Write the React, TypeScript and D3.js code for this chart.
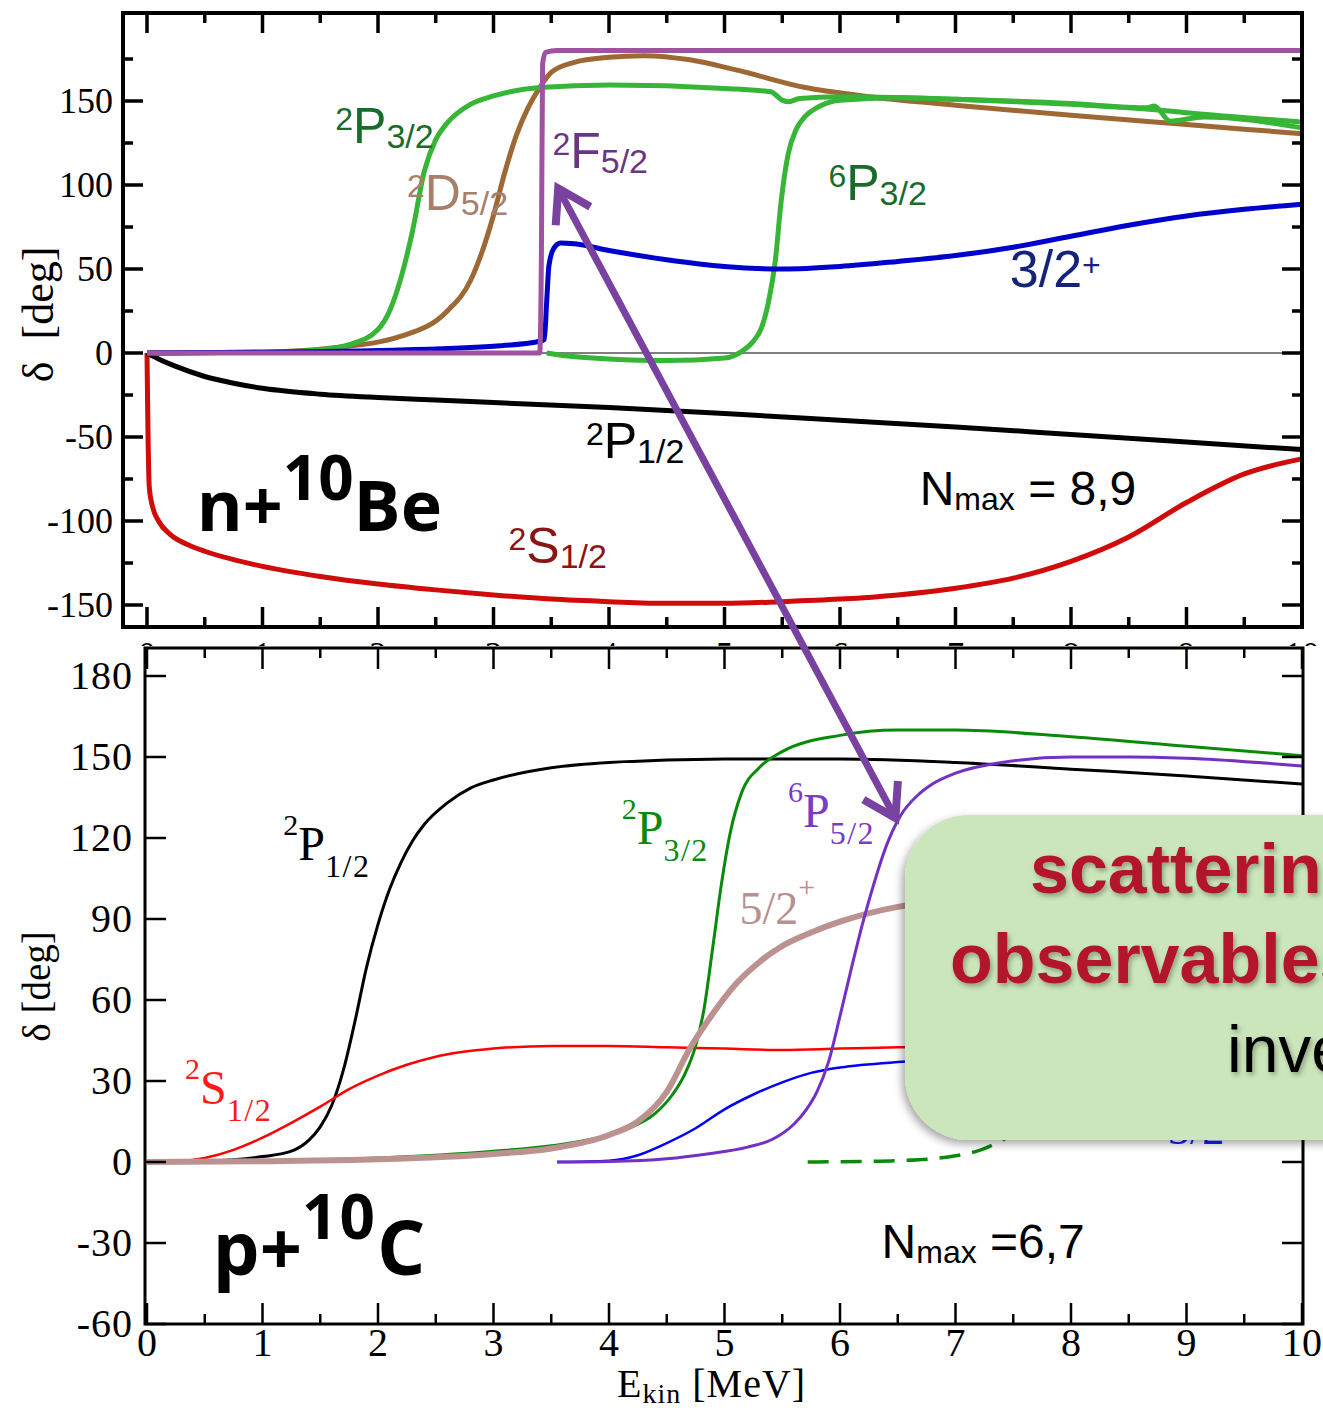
import React from "react";
import * as d3 from "d3";

type Pt = [number, number];

// ---------- n + 10Be phase shifts, Nmax = 8,9 (E_kin [MeV], delta [deg]) ----------
const beS12: Pt[] = [[0,0],[0.008,-45],[0.02,-80],[0.05,-92],[0.1,-100],[0.2,-108],[0.35,-114],[0.5,-118],[0.75,-123],[1,-127],[1.5,-133],[2,-137.5],[2.5,-141],[3,-144],[3.5,-146.5],[4,-148],[4.5,-149],[5,-149],[5.5,-148],[6,-146.5],[6.5,-144],[7,-140],[7.5,-134],[8,-124],[8.5,-109.5],[9,-89],[9.5,-72],[10,-63]];
const beP12: Pt[] = [[0,0],[0.1,-3.5],[0.25,-8],[0.5,-14],[0.75,-18],[1,-21],[1.5,-24.5],[2,-26.5],[2.5,-28],[3,-29.5],[4,-32.5],[5,-36],[6,-40],[7,-44],[8,-48.5],[9,-53],[10,-57.5]];
const beP32: Pt[] = [[0,0],[1,0.5],[1.5,2],[1.75,5],[2,14],[2.1,25],[2.2,45],[2.3,73],[2.4,108],[2.5,127],[2.6,137],[2.8,148],[3,153],[3.4,158],[4,159.5],[5,157.5],[5.4,155.5],[5.5,150.5],[5.55,149.5],[5.65,151.5],[6,152.5],[7,151],[8,148.5],[8.66,146],[8.72,147],[8.86,138],[9.15,140.5],[10,134]];
const be6P32: Pt[] = [[3.46,0],[3.6,-1.5],[4,-3.5],[4.5,-4.5],[5,-3],[5.15,1],[5.25,7],[5.32,15],[5.38,30],[5.44,55],[5.49,90],[5.55,118],[5.62,133],[5.7,141],[5.8,146],[6,150.5],[6.5,152],[7,151],[8,148],[8.7,145],[9,143],[10,137.5]];
const beD52: Pt[] = [[0,0],[1,0.5],[1.6,3],[2.2,10],[2.6,25],[2.8,43],[2.9,60],[3,82],[3.1,108],[3.2,130],[3.3,146],[3.4,158],[3.5,167],[3.7,173],[4,176],[4.3,177],[4.7,174.5],[5.1,168.5],[5.7,158],[6.2,153],[7,147.5],[8,141.5],[9,136],[10,130.5]];
const be32p: Pt[] = [[0,0],[1,0.5],[2,1.5],[3,4],[3.4,7],[3.44,8],[3.46,30],[3.48,52],[3.52,62],[3.58,65.5],[3.7,65],[4,61],[4.5,55.5],[5,51.5],[5.5,50],[6,51.5],[6.5,54.5],[7,58],[7.5,63],[8,69.5],[8.5,76],[9,81.5],[9.5,85.5],[10,88.5]];
const beF52: Pt[] = [[0,0],[3.4,0],[3.415,60],[3.425,172],[3.45,179],[3.55,180],[10,180]];

// ---------- p + 10C phase shifts, Nmax = 6,7 ----------
const cS12: Pt[] = [[0,0],[0.25,0.2],[0.5,1.5],[0.75,4.5],[1,9],[1.25,14.5],[1.5,20.5],[1.75,27],[2,32],[2.25,36],[2.5,39],[3,42],[3.5,43],[4,43],[4.5,42.5],[5,42],[5.5,41.5],[6,42],[6.5,42.5],[7,43],[8,43],[10,43]];
const cP12: Pt[] = [[0,0],[0.5,0.2],[0.75,0.8],[1,2],[1.25,4],[1.4,8],[1.5,13],[1.6,21],[1.7,34],[1.8,52],[1.9,72],[2,88],[2.1,101],[2.2,111],[2.3,119],[2.4,125],[2.6,133],[2.8,138.5],[3,141.5],[3.5,146],[4,148],[5,149.3],[6,149.3],[7,148],[8,145.5],[9,143],[10,140]];
const cP32: Pt[] = [[0,0],[1,0.5],[2,1.5],[3,4],[3.5,6],[4,10],[4.2,13],[4.4,18],[4.55,25],[4.65,32],[4.75,43],[4.82,56],[4.9,80],[4.97,102],[5.05,122],[5.15,137],[5.3,146],[5.5,152],[6,158],[6.5,160],[7,160],[8,157.5],[9,154],[10,150.5]];
const c52p: Pt[] = [[0,0],[1,0.3],[2,1],[3,3],[3.5,5],[4,10],[4.25,15],[4.5,26],[4.7,42],[4.9,55],[5.1,66],[5.3,74],[5.5,80],[5.75,85],[6,89],[6.5,94.5],[7,97],[8,100],[9,102],[10,103]];
const cP52: Pt[] = [[3.55,0],[4,0.2],[4.5,1.2],[4.85,3],[5.2,5.5],[5.42,8.5],[5.6,14],[5.71,19.5],[5.8,26],[5.9,37],[6,54],[6.1,72],[6.2,89],[6.3,104],[6.4,117],[6.52,128],[6.69,136.5],[6.8,140],[7,144],[7.4,148],[8,150],[8.5,150],[9,149.5],[10,146.7]];
const c32m: Pt[] = [[3.55,0],[4,0.5],[4.25,2.5],[4.5,7],[4.75,12.5],[5,19.5],[5.25,25],[5.5,29.5],[5.75,33],[6,35],[6.5,37],[7,38],[8,39],[10,39.5]];
const cDashed: Pt[] = [[5.72,0],[6.2,0.2],[6.5,0.5],[6.8,1.2],[7,2.3],[7.2,4.2],[7.4,8],[7.6,13],[8,22],[8.5,32],[9,38],[10,42]];

// ---------- ticks ----------
const energyTicks = d3.range(0, 11);
const energyMinor = d3.range(0.5, 10, 1);
const topDeltaTicks = [-150, -100, -50, 0, 50, 100, 150];
const topDeltaMinor = [-125, -75, -25, 25, 75, 125, 175];
const botDeltaTicks = [-60, -30, 0, 30, 60, 90, 120, 150, 180];

// ---------- layout ----------
const W = 1323;
const H = 1410;
const topBox = { left: 123, right: 1302, top: 13, bottom: 627 };
const botBox = { left: 145, right: 1303, top: 648, bottom: 1324 };

const xTop = d3.scaleLinear().domain([0, 10]).range([147, 1302]);
const yTop = d3.scaleLinear().domain([0, 150]).range([353, 101]);
const xBot = d3.scaleLinear().domain([0, 10]).range([147, 1302]);
const yBot = d3.scaleLinear().domain([0, 180]).range([1162, 676]);

const SERIF = "'Liberation Serif', 'Times New Roman', serif";
const SANS = "'Liberation Sans', Arial, Helvetica, sans-serif";
const BOLD = "'Open Sans', 'DejaVu Sans', sans-serif";

const lineTop = d3.line<Pt>().x((d) => xTop(d[0])).y((d) => yTop(d[1])).curve(d3.curveMonotoneX);
const lineBot = d3.line<Pt>().x((d) => xBot(d[0])).y((d) => yBot(d[1])).curve(d3.curveMonotoneX);

type Part = { t: string; size: number; dy?: number; ls?: number };

function Label({ x, y, parts, fill, family, weight }: { x: number; y: number; parts: Part[]; fill: string; family: string; weight?: number | string }) {
  return (
    <text x={x} y={y} fill={fill} fontFamily={family} fontWeight={weight ?? "normal"}>
      {parts.map((p, i) => (
        <tspan key={i} fontSize={p.size} dy={p.dy ?? 0} letterSpacing={p.ls ?? 0}>
          {p.t}
        </tspan>
      ))}
    </text>
  );
}

// sans spectroscopic term for the upper panel: sup, main letter, sub
const termSans = (sup: string, main: string, sub: string): Part[] => [
  { t: sup, size: 32, dy: -13 },
  { t: main, size: 50, dy: 13 },
  { t: sub, size: 34, dy: 5 },
];
// serif term for the lower panel
const termSerif = (sup: string, main: string, sub: string): Part[] => [
  { t: sup, size: 30, dy: -25 },
  { t: main, size: 48, dy: 25 },
  { t: sub, size: 32, dy: 17, ls: 1.5 },
];

type Box = { left: number; right: number; top: number; bottom: number };

function Frame({ box, xs, ys, xMaj, xMin, yMaj, yMin, maj, min, tickW, frameW }: {
  box: Box; xs: d3.ScaleLinear<number, number>; ys: d3.ScaleLinear<number, number>;
  xMaj: number[]; xMin: number[]; yMaj: number[]; yMin: number[]; maj: number; min: number; tickW: number; frameW: number;
}) {
  const segs: [number, number, number, number][] = [];
  xMaj.forEach((v) => { const X = xs(v); segs.push([X, box.bottom, X, box.bottom - maj]); segs.push([X, box.top, X, box.top + maj]); });
  xMin.forEach((v) => { const X = xs(v); segs.push([X, box.bottom, X, box.bottom - min]); segs.push([X, box.top, X, box.top + min]); });
  yMaj.forEach((v) => { const Y = ys(v); segs.push([box.left, Y, box.left + maj, Y]); segs.push([box.right, Y, box.right - maj, Y]); });
  yMin.forEach((v) => { const Y = ys(v); segs.push([box.left, Y, box.left + min, Y]); segs.push([box.right, Y, box.right - min, Y]); });
  return (
    <g stroke="#000" fill="none">
      {segs.map((s, i) => (
        <line key={i} x1={s[0]} y1={s[1]} x2={s[2]} y2={s[3]} strokeWidth={tickW} />
      ))}
      <rect x={box.left} y={box.top} width={box.right - box.left} height={box.bottom - box.top} strokeWidth={frameW} />
    </g>
  );
}

function chevron(tip: [number, number], from: [number, number], len: number, deg: number) {
  const dx = from[0] - tip[0];
  const dy = from[1] - tip[1];
  const L = Math.hypot(dx, dy);
  const ux = dx / L, uy = dy / L;
  const a = (deg * Math.PI) / 180;
  const arm = (s: number) => [
    tip[0] + len * (ux * Math.cos(s * a) - uy * Math.sin(s * a)),
    tip[1] + len * (ux * Math.sin(s * a) + uy * Math.cos(s * a)),
  ];
  const p1 = arm(1), p2 = arm(-1);
  return `M${p1[0]},${p1[1]}L${tip[0]},${tip[1]}L${p2[0]},${p2[1]}`;
}

export default function App() {
  // arrow joining the 2F5/2 resonance (n+10Be) and the 6P5/2 resonance (p+10C)
  const arrowA: [number, number] = [xTop(3.56), yTop(98)];
  const arrowB: [number, number] = [xBot(6.48), yBot(127.4)];
  const arrowColor = "#7a42a0";

  return (
    <svg width={W} height={H} viewBox={`0 0 ${W} ${H}`} style={{ position: "absolute", left: 0, top: 0, display: "block" }}>
      <defs>
        <filter id="boxShadow" x="-20%" y="-20%" width="150%" height="150%">
          <feDropShadow dx={-3} dy={4} stdDeviation={4} floodColor="#000" floodOpacity={0.35} />
        </filter>
        <filter id="textShadow" x="-10%" y="-20%" width="130%" height="150%">
          <feDropShadow dx={2} dy={3} stdDeviation={2.5} floodColor="#000" floodOpacity={0.3} />
        </filter>
      </defs>
      <rect x={0} y={0} width={W} height={H} fill="#fff" />

      {/* ===== upper panel: n + 10Be ===== */}
      <line x1={xTop(0)} x2={xTop(10)} y1={yTop(0)} y2={yTop(0)} stroke="#555" strokeWidth={1.5} />
      <g fill="none" strokeWidth={5} strokeLinejoin="round">
        <path d={lineTop(beS12) ?? ""} stroke="#d10a0a" />
        <path d={lineTop(beP12) ?? ""} stroke="#000" />
        <path d={lineTop(beD52) ?? ""} stroke="#9e6835" />
        <path d={lineTop(beP32) ?? ""} stroke="#36b536" />
        <path d={lineTop(be6P32) ?? ""} stroke="#36b536" />
        <path d={lineTop(be32p) ?? ""} stroke="#0000cc" />
        <path d={lineTop(beF52) ?? ""} stroke="#9e52a0" />
      </g>
      <Frame box={topBox} xs={xTop} ys={yTop} xMaj={energyTicks} xMin={energyMinor} yMaj={topDeltaTicks} yMin={topDeltaMinor} maj={20} min={10} tickW={3.5} frameW={4} />
      <g fontFamily={SERIF} fontSize={36} textAnchor="end" fill="#000">
        {topDeltaTicks.map((v) => (
          <text key={v} x={113} y={yTop(v) + 12}>{v}</text>
        ))}
      </g>
      <g fontFamily={SERIF} fontSize={35} textAnchor="middle" fill="#000">
        {energyTicks.map((v) => (
          <text key={v} x={xTop(v)} y={667}>{v}</text>
        ))}
      </g>
      <text transform={`translate(53, ${yTop(23)}) rotate(-90)`} textAnchor="middle" fontFamily={SERIF} fontSize={44} fill="#000">
        {"\u03b4\u00a0\u00a0[deg]"}
      </text>

      <Label x={xTop(1.63)} y={yTop(125)} parts={termSans("2", "P", "3/2")} fill="#1a6b2a" family={SANS} />
      <Label x={xTop(2.25)} y={yTop(85)} parts={termSans("2", "D", "5/2")} fill="#a6806a" family={SANS} />
      <Label x={xTop(3.51)} y={yTop(110)} parts={termSans("2", "F", "5/2")} fill="#6a3585" family={SANS} />
      <Label x={xTop(5.9)} y={yTop(91)} parts={termSans("6", "P", "3/2")} fill="#1a6b2a" family={SANS} />
      <Label x={xTop(7.47)} y={yTop(39.3)} parts={[{ t: "3/2", size: 52 }, { t: "+", size: 32, dy: -11 }]} fill="#15237a" family={SANS} />
      <Label x={xTop(3.8)} y={yTop(-62.5)} parts={termSans("2", "P", "1/2")} fill="#000" family={SANS} />
      <Label x={xTop(3.13)} y={yTop(-125)} parts={termSans("2", "S", "1/2")} fill="#8b1414" family={SANS} />
      <Label x={xTop(0.43)} y={yTop(-106)} parts={[{ t: "n+", size: 70 }, { t: "10", size: 62, dy: -31 }, { t: "Be", size: 70, dy: 31 }]} fill="#000" family={BOLD} weight={700} />
      <Label x={xTop(6.69)} y={yTop(-90.5)} parts={[{ t: "N", size: 48 }, { t: "max", size: 32, dy: 5 }, { t: " = 8,9", size: 48, dy: -5 }]} fill="#000" family={SANS} />

      {/* ===== lower panel: p + 10C ===== */}
      <rect x={0} y={646} width={W} height={H - 646} fill="#fff" />
      <g fill="none" strokeLinejoin="round">
        <path d={lineBot(cP12) ?? ""} stroke="#000" strokeWidth={3} />
        <path d={lineBot(cS12) ?? ""} stroke="#ff0000" strokeWidth={2.5} />
        <path d={lineBot(cP32) ?? ""} stroke="#0a8a0a" strokeWidth={3} />
        <path d={lineBot(cDashed) ?? ""} stroke="#0a8a0a" strokeWidth={3.5} strokeDasharray="21 12" />
        <path d={lineBot(c52p) ?? ""} stroke="#bb9290" strokeWidth={6} />
        <path d={lineBot(c32m) ?? ""} stroke="#0000ff" strokeWidth={2.5} />
        <path d={lineBot(cP52) ?? ""} stroke="#7430c4" strokeWidth={3} />
      </g>
      <Frame box={botBox} xs={xBot} ys={yBot} xMaj={energyTicks} xMin={energyMinor} yMaj={botDeltaTicks} yMin={[]} maj={21} min={10} tickW={2.5} frameW={3} />
      <g fontFamily={SERIF} fontSize={40} textAnchor="end" fill="#000" letterSpacing={1}>
        {botDeltaTicks.map((v) => (
          <text key={v} x={133} y={yBot(v) + 13}>{v}</text>
        ))}
      </g>
      <g fontFamily={SERIF} fontSize={40} textAnchor="middle" fill="#000">
        {energyTicks.map((v) => (
          <text key={v} x={xBot(v)} y={1356}>{v}</text>
        ))}
      </g>
      <text x={xBot(4.07)} y={1397} fontFamily={SERIF} fill="#000" letterSpacing={1}>
        <tspan fontSize={40}>E</tspan>
        <tspan fontSize={28} dy={6}>kin</tspan>
        <tspan fontSize={40} dy={-6}>{" [MeV]"}</tspan>
      </text>
      <text transform={`translate(50, ${yBot(65)}) rotate(-90)`} textAnchor="middle" fontFamily={SERIF} fontSize={39} fill="#000">
        {"\u03b4 [deg]"}
      </text>

      <Label x={xBot(1.18)} y={yBot(112)} parts={termSerif("2", "P", "1/2")} fill="#000" family={SERIF} />
      <Label x={xBot(0.33)} y={yBot(21.5)} parts={termSerif("2", "S", "1/2")} fill="#ff1a1a" family={SERIF} />
      <Label x={xBot(4.11)} y={yBot(117.8)} parts={termSerif("2", "P", "3/2")} fill="#0a8a0a" family={SERIF} />
      <Label x={xBot(5.55)} y={yBot(124)} parts={termSerif("6", "P", "5/2")} fill="#7b3ac8" family={SERIF} />
      <Label x={xBot(5.13)} y={yBot(88)} parts={[{ t: "5/2", size: 46 }, { t: "+", size: 30, dy: -27 }]} fill="#b89090" family={SERIF} />
      <Label x={xBot(8.84)} y={yBot(6.7)} parts={[{ t: "3/2", size: 44 }, { t: "\u2212", size: 30, dy: -27 }]} fill="#1a1aff" family={SERIF} />
      <Label x={xBot(0.57)} y={yBot(-42)} parts={[{ t: "p+", size: 74 }, { t: "10", size: 62, dy: -36, ls: 2 }, { t: "C", size: 76, dy: 36 }]} fill="#000" family={BOLD} weight={700} />
      <Label x={xBot(6.36)} y={yBot(-35.5)} parts={[{ t: "N", size: 48 }, { t: "max", size: 32, dy: 5 }, { t: " =6,7", size: 48, dy: -5 }]} fill="#000" family={SANS} />

      {/* ===== connecting arrow ===== */}
      <g stroke={arrowColor} fill="none">
        <line x1={arrowA[0]} y1={arrowA[1]} x2={arrowB[0]} y2={arrowB[1]} strokeWidth={7} />
        <path d={chevron(arrowA, arrowB, 37, 32)} strokeWidth={8} strokeLinejoin="miter" />
        <path d={chevron(arrowB, arrowA, 37, 32)} strokeWidth={8} strokeLinejoin="miter" />
      </g>

      {/* ===== callout ===== */}
      <rect x={905} y={815} width={520} height={325} rx={64} ry={64} fill="#cbe6bb" filter="url(#boxShadow)" />
      <g filter="url(#textShadow)">
        <text x={1030} y={893} fontFamily={SANS} fontWeight={700} fontSize={70} fill="#b3132b">scattering</text>
        <text x={950} y={983} fontFamily={SANS} fontWeight={700} fontSize={70} fill="#b3132b">observables</text>
        <text x={1227} y={1072} fontFamily={SANS} fontSize={66} fill="#000">investigated</text>
      </g>
    </svg>
  );
}
